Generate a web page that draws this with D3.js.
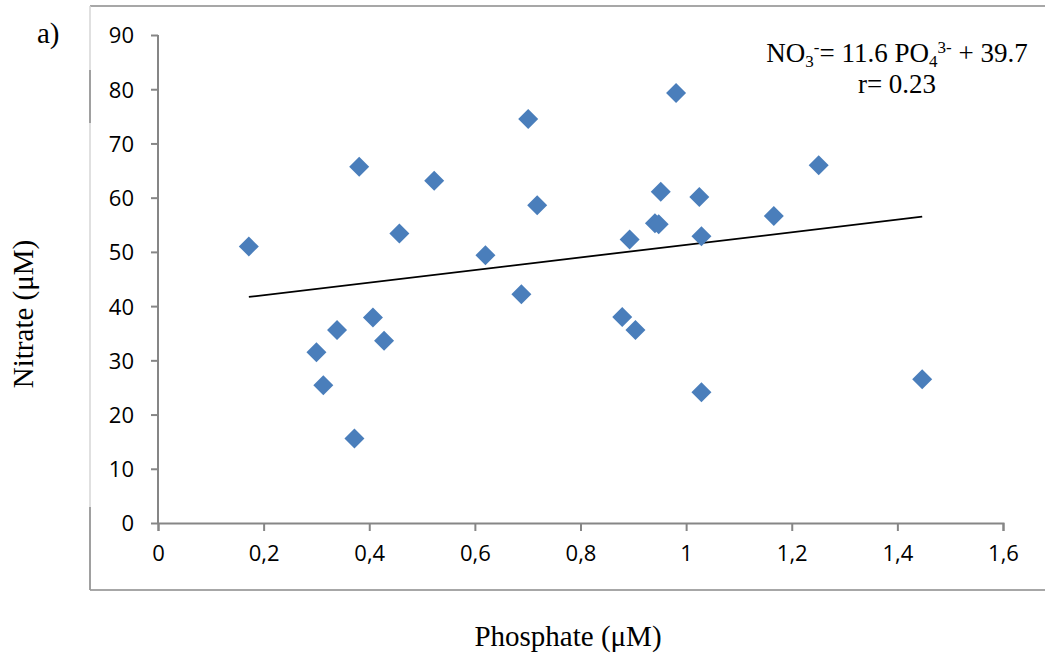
<!DOCTYPE html>
<html>
<head>
<meta charset="utf-8">
<script src="https://cdn.jsdelivr.net/npm/d3@7"></script>
<style>
  body { margin: 0; background: #fff; }
  svg { display: block; }
  .tick text { font-family: "Open Sans", sans-serif; font-size: 22px; fill: #000; }
  .serif { font-family: "Liberation Serif", "Times New Roman", serif; fill: #000; }
</style>
</head>
<body>
<div id="chart"></div>
<script>
// phosphate (µM) vs nitrate (µM)
const phosphate = [0.172, 0.300, 0.313, 0.339, 0.372, 0.381, 0.407, 0.428, 0.457, 0.523,
    0.620, 0.688, 0.701, 0.718, 0.879, 0.893, 0.904, 0.941, 0.948, 0.952,
    0.981, 1.025, 1.029, 1.029, 1.166, 1.251, 1.447];
const nitrate = [51.0, 31.5, 25.4, 35.6, 15.6, 65.7, 37.9, 33.6, 53.4, 63.1,
    49.4, 42.2, 74.5, 58.6, 38.0, 52.3, 35.6, 55.3, 55.1, 61.1,
    79.3, 60.1, 52.9, 24.1, 56.6, 66.0, 26.5];
const xTicks = [0, 0.2, 0.4, 0.6, 0.8, 1, 1.2, 1.4, 1.6];
const yTicks = [0, 10, 20, 30, 40, 50, 60, 70, 80, 90];
const fit = { slope: 11.6, intercept: 39.7, r: 0.23 };

const W = 1045, H = 657;
const plot = { left: 158, right: 1003, top: 35, bottom: 523 };
const axisColor = "#868686";

const svg = d3.select("#chart").append("svg").attr("width", W).attr("height", H);

// outer frame (only partially visible in the source image)
svg.append("path").attr("d", "M90,6H1045M90,590H1045")
    .attr("stroke", "#8a8a8a").attr("stroke-width", 1.5).attr("fill", "none");
svg.append("line").attr("x1", 90).attr("x2", 90).attr("y1", 6).attr("y2", 590)
    .attr("stroke", "#d6d6d6").attr("stroke-width", 1.5);
svg.append("path").attr("d", "M90,70V123M90,507V590")
    .attr("stroke", "#8a8a8a").attr("stroke-width", 1.5);

const x = d3.scaleLinear().domain([0, 1.6]).range([plot.left, plot.right]);
const y = d3.scaleLinear().domain([0, 90]).range([plot.bottom, plot.top]);
const comma = d => String(d).replace(".", ",");

const xAxis = svg.append("g").attr("transform", `translate(0,${plot.bottom})`)
    .call(d3.axisBottom(x).tickValues(xTicks).tickFormat(comma).tickSize(8).tickPadding(14));
const yAxis = svg.append("g").attr("transform", `translate(${plot.left},0)`)
    .call(d3.axisLeft(y).tickValues(yTicks).tickSize(7).tickPadding(17));
[xAxis, yAxis].forEach(g => {
    g.select(".domain").attr("stroke", axisColor).attr("stroke-width", 2);
    g.selectAll(".tick line").attr("stroke", axisColor).attr("stroke-width", 2);
});
yAxis.select(".domain").attr("d", `M0,${plot.bottom + 0.5}V${plot.top}`);
yAxis.selectAll(".tick text").attr("dy", "0.36em");

// trend line over the data range
const xMin = d3.min(phosphate), xMax = d3.max(phosphate);
svg.append("line")
    .attr("x1", x(xMin)).attr("y1", y(fit.slope * xMin + fit.intercept))
    .attr("x2", x(xMax)).attr("y2", y(fit.slope * xMax + fit.intercept))
    .attr("stroke", "#000").attr("stroke-width", 1.8);

// diamonds
const diamond = d3.symbol().type(d3.symbolSquare).size(200);
svg.append("g").selectAll("path")
    .data(phosphate.map((p, i) => ({ p, n: nitrate[i] })))
    .enter().append("path")
    .attr("d", diamond)
    .attr("transform", d => `translate(${x(d.p)},${y(d.n)}) rotate(45)`)
    .attr("fill", "#4a7ebb");

// equation
const eq = svg.append("text").attr("class", "serif").attr("x", 897).attr("y", 62)
    .attr("text-anchor", "middle").attr("font-size", 27);
eq.append("tspan").text("NO");
eq.append("tspan").text("3").attr("font-size", 17).attr("dy", 5);
eq.append("tspan").text("-").attr("font-size", 17).attr("dy", -14);
eq.append("tspan").text("= 11.6 PO").attr("dy", 9);
eq.append("tspan").text("4").attr("font-size", 17).attr("dy", 5);
eq.append("tspan").text("3-").attr("font-size", 17).attr("dy", -14);
eq.append("tspan").text(" + 39.7").attr("dy", 9);
svg.append("text").attr("class", "serif").attr("x", 897).attr("y", 93)
    .attr("text-anchor", "middle").attr("font-size", 27).text(`r= ${fit.r}`);

// titles
svg.append("text").attr("class", "serif").attr("x", 37).attr("y", 43)
    .attr("font-size", 29).text("a)");
svg.append("text").attr("class", "serif").attr("x", 568).attr("y", 646)
    .attr("text-anchor", "middle").attr("font-size", 29).text("Phosphate (μM)");
svg.append("text").attr("class", "serif")
    .attr("transform", "translate(33,314) rotate(-90)")
    .attr("text-anchor", "middle").attr("font-size", 29).text("Nitrate (μM)");
</script>
</body>
</html>
